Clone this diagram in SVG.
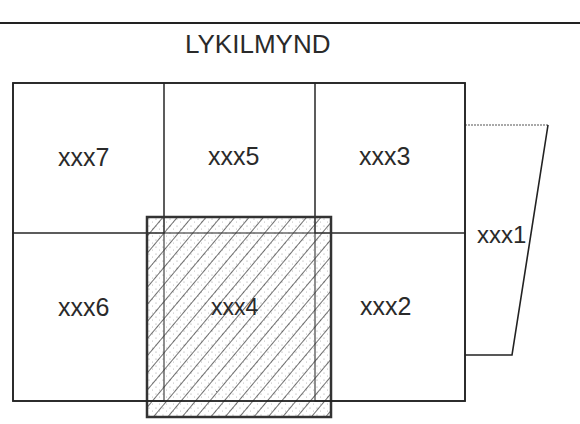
<svg xmlns="http://www.w3.org/2000/svg" width="580" height="424" viewBox="0 0 580 424">
<style>
text{font-family:"Liberation Sans",Arial,sans-serif;fill:#2a2a2a}
.lbl{font-size:25px}
.cell{fill:none;stroke:#333;stroke-width:1.1}
</style>
<defs>
<pattern id="dots" width="7" height="7" patternUnits="userSpaceOnUse">
<circle cx="2" cy="2" r="0.6" fill="#999"/>
<circle cx="5.5" cy="5" r="0.5" fill="#aaa"/>
</pattern>
<pattern id="hatch" width="11" height="11" patternUnits="userSpaceOnUse" patternTransform="rotate(40)">
<line x1="0" y1="0" x2="0" y2="11" stroke="#333" stroke-width="1.4"/>
</pattern>
</defs>
<rect width="580" height="424" fill="#fff"/>
<line x1="0" y1="23" x2="580" y2="23" stroke="#222" stroke-width="2"/>
<text x="185" y="53" style="font-size:26px">LYKILMYND</text>

<g id="xxx4">
<rect x="147" y="217" width="184" height="200" fill="url(#dots)"/>
<rect x="147" y="217" width="184" height="200" fill="url(#hatch)"/>
<rect x="147" y="217" width="184" height="200" fill="none" stroke="#333" stroke-width="2.5"/>
<text class="lbl" x="211" y="315" style="font-size:23px">xxx4</text>
</g>
<g id="xxx7"><rect class="cell" x="13" y="83" width="151" height="150"/><text class="lbl" x="58" y="166">xxx7</text></g>
<g id="xxx5"><rect class="cell" x="164" y="83" width="151" height="150"/><text class="lbl" x="208" y="165">xxx5</text></g>
<g id="xxx3"><rect class="cell" x="315" y="83" width="150" height="150"/><text class="lbl" x="359" y="165">xxx3</text></g>
<g id="xxx6"><rect class="cell" x="13" y="233" width="151" height="168"/><text class="lbl" x="58" y="316">xxx6</text></g>
<g id="xxx2"><rect class="cell" x="315" y="233" width="150" height="168"/><text class="lbl" x="360" y="315">xxx2</text></g>
<g id="xxx1">
<polyline points="465,125 548,125" fill="none" stroke="#555" stroke-width="1.2" stroke-dasharray="2 1"/>
<polyline points="548,125 512,355 465,355" fill="none" stroke="#222" stroke-width="1.6"/>
<text class="lbl" x="477" y="243" style="font-size:24px">xxx1</text>
</g>
<g id="connectors">
<rect x="13" y="83" width="452" height="318" fill="none" stroke="#222" stroke-width="1.8"/>
</g>
</svg>
